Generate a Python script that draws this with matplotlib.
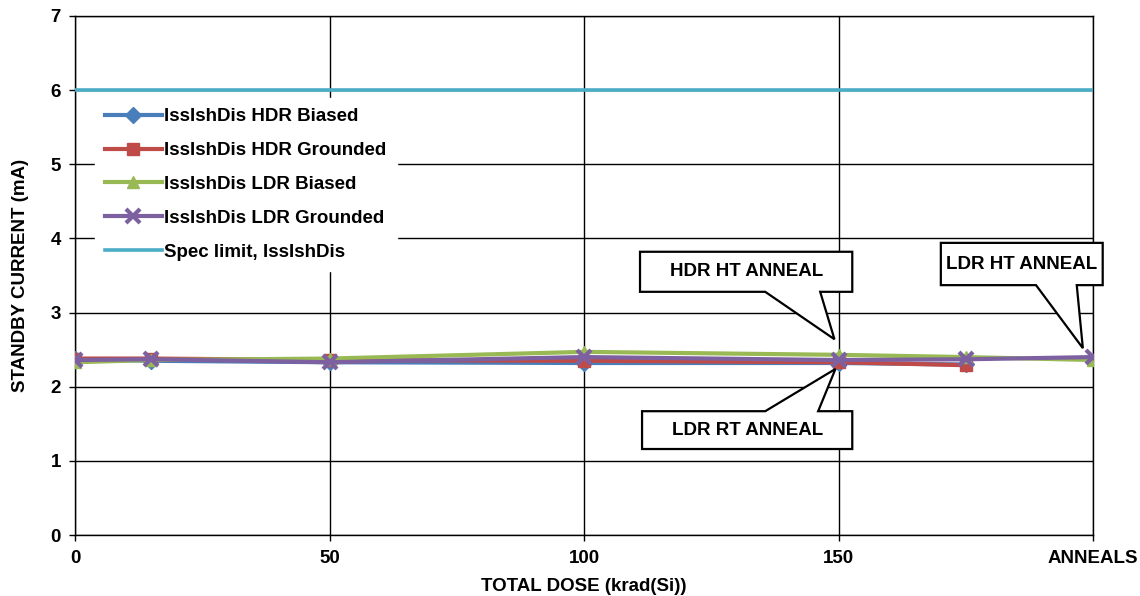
import matplotlib
matplotlib.use('Agg')
import matplotlib.pyplot as plt
from matplotlib.patches import Polygon

plt.rcParams['font.family'] = ['Liberation Sans', 'DejaVu Sans']
plt.rcParams['font.weight'] = 'bold'

# dose points (krad(Si)); 200 = anneal step
dose_hdr = [0, 15, 50, 100, 150, 175]
dose_ldr = [0, 15, 50, 100, 150, 175, 200]

hdr_biased = [2.37, 2.35, 2.33, 2.32, 2.32, 2.30]
hdr_grounded = [2.38, 2.38, 2.36, 2.35, 2.33, 2.29]
ldr_biased = [2.33, 2.36, 2.38, 2.47, 2.43, 2.40, 2.36]
ldr_grounded = [2.36, 2.37, 2.33, 2.40, 2.36, 2.37, 2.40]
spec_limit = 6

xticks = [0, 50, 100, 150, 200]
xticklabels = ['0', '50', '100', '150', 'ANNEALS']

FS = 13.5

fig = plt.figure(figsize=(11.4, 5.96), dpi=100)
ax = fig.add_axes([0.0658, 0.1023, 0.893, 0.8709])

ax.axhline(spec_limit, color='#4BACC6', lw=2.6, label='Spec limit, IssIshDis', zorder=3)
ax.plot(dose_hdr, hdr_biased, color='#4A7EBB', lw=3, marker='D', ms=8,
        label='IssIshDis HDR Biased', zorder=4)
ax.plot(dose_hdr, hdr_grounded, color='#BE4B48', lw=3, marker='s', ms=9,
        label='IssIshDis HDR Grounded', zorder=4)
ax.plot(dose_ldr, ldr_biased, color='#98B954', lw=3, marker='^', ms=9,
        label='IssIshDis LDR Biased', zorder=4)
ax.plot(dose_ldr, ldr_grounded, color='#7D60A0', lw=3, marker='x', ms=10, mew=3,
        label='IssIshDis LDR Grounded', zorder=5)

ax.set_xlim(0, 200)
ax.set_ylim(0, 7)
ax.set_xticks(xticks)
ax.set_xticklabels(xticklabels)
ax.set_yticks(range(0, 8))
ax.grid(True, color='black', lw=1)
ax.set_axisbelow(True)
for s in ax.spines.values():
    s.set_color('black')
    s.set_linewidth(1)
ax.tick_params(axis='both', labelsize=FS, length=4, width=1, color='black')
ax.tick_params(axis='x', pad=7)
ax.tick_params(axis='y', pad=6)
ax.set_xlabel('TOTAL DOSE (krad(Si))', fontsize=FS, fontweight='bold', labelpad=8)
ax.set_ylabel('STANDBY CURRENT (mA)', fontsize=FS, fontweight='bold', labelpad=16)

h, l = ax.get_legend_handles_labels()
order = [1, 2, 3, 4, 0]
leg = ax.legend([h[i] for i in order], [l[i] for i in order], loc='upper left',
                bbox_to_anchor=(0.0196, 0.842), frameon=True, fancybox=False,
                edgecolor='white', facecolor='white', framealpha=1,
                fontsize=FS, handlelength=3.0, handletextpad=0.15, labelspacing=0.89,
                borderaxespad=0, borderpad=0.55)
leg.set_zorder(6)
for t in leg.get_texts():
    t.set_fontweight('bold')


def callout(text, x0, x1, y0, y1, base, tip):
    # rectangle with a wedge pointer joined into one outline
    if tip[1] < y0:
        pts = [(x0, y1), (x1, y1), (x1, y0), (base[1], y0), tip, (base[0], y0), (x0, y0)]
    else:
        pts = [(x0, y0), (x1, y0), (x1, y1), (base[1], y1), tip, (base[0], y1), (x0, y1)]
    ax.add_patch(Polygon(pts, closed=True, fc='white', ec='black', lw=1.6,
                         zorder=7, clip_on=False))
    ax.text((x0 + x1) / 2, (y0 + y1) / 2, text, ha='center', va='center',
            fontsize=FS, fontweight='bold', zorder=8)


callout('HDR HT ANNEAL', 111.0, 152.7, 3.28, 3.82, (135.6, 146.4), (149.2, ldr_biased[4] + 0.21))
callout('LDR RT ANNEAL', 111.4, 152.7, 1.16, 1.67, (135.6, 146.0), (149.4, hdr_grounded[4] - 0.09))
callout('LDR HT ANNEAL', 170.1, 201.9, 3.37, 3.94, (188.8, 196.8), (198.0, ldr_grounded[6] + 0.12))

fig.savefig('out.png', dpi=100)
